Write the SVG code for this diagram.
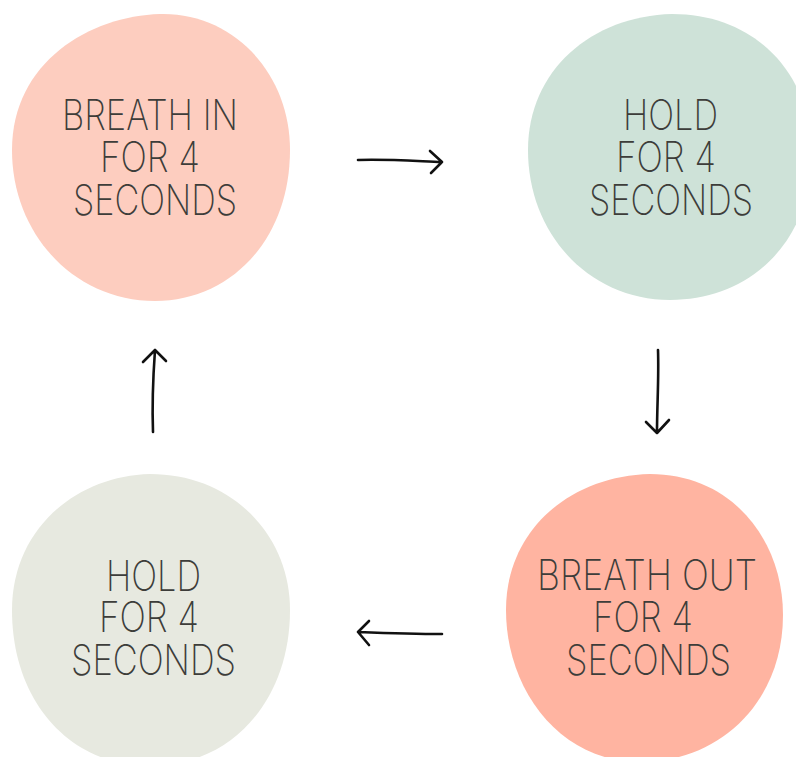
<svg xmlns="http://www.w3.org/2000/svg" width="796" height="757" viewBox="0 0 796 757">
<style>
.t{font-family:Inter,"Open Sans","Liberation Sans",sans-serif;font-weight:200;font-size:42px;fill:#3d3d3a;text-anchor:start}
.a{fill:none;stroke:#111;stroke-width:2.6;stroke-linecap:round;stroke-linejoin:round}
</style>
<rect width="796" height="757" fill="#fff"/>
<g id="node-breath-in">
<path d="M160 14 C232 12 290 72 290 150 C290 240 230 301 155 301 C75 301 12 235 12 150 C12 62 90 16 160 14 Z" fill="#FDCDBF"/>
<text class="t" x="62" y="130" textLength="176" lengthAdjust="spacingAndGlyphs">BREATH IN</text>
<text class="t" x="100" y="172" textLength="100" lengthAdjust="spacingAndGlyphs">FOR 4</text>
<text class="t" x="73" y="215" textLength="164" lengthAdjust="spacingAndGlyphs">SECONDS</text>
</g>
<g id="node-hold-1">
<path d="M672 14 C762 14 812 82 812 152 C812 242 750 300 670 300 C590 300 528 235 528 150 C528 70 592 16 672 14 Z" fill="#CEE2D8"/>
<text class="t" x="623" y="130" textLength="95" lengthAdjust="spacingAndGlyphs">HOLD</text>
<text class="t" x="616" y="172" textLength="100" lengthAdjust="spacingAndGlyphs">FOR 4</text>
<text class="t" x="589" y="215" textLength="164" lengthAdjust="spacingAndGlyphs">SECONDS</text>
</g>
<g id="node-breath-out">
<path d="M650 474 C732 474 783 540 783 615 C783 702 720 762 640 762 C560 762 506 690 506 610 C506 530 570 476 650 474 Z" fill="#FFB4A1"/>
<text class="t" x="537" y="590" textLength="220" lengthAdjust="spacingAndGlyphs">BREATH OUT</text>
<text class="t" x="593" y="632" textLength="100" lengthAdjust="spacingAndGlyphs">FOR 4</text>
<text class="t" x="566" y="675" textLength="165" lengthAdjust="spacingAndGlyphs">SECONDS</text>
</g>
<g id="node-hold-2">
<path d="M150 474 C232 474 290 535 290 610 C290 702 230 766 150 766 C70 766 12 702 12 610 C12 530 75 476 150 474 Z" fill="#E7E9E0"/>
<text class="t" x="106" y="591" textLength="95" lengthAdjust="spacingAndGlyphs">HOLD</text>
<text class="t" x="99" y="632" textLength="100" lengthAdjust="spacingAndGlyphs">FOR 4</text>
<text class="t" x="71" y="675" textLength="165" lengthAdjust="spacingAndGlyphs">SECONDS</text>
</g>
<g id="connectors">
<path class="a" d="M358 160 C385 159 415 161 442 162 M430 151 L442 162 L431 173"/>
<path class="a" d="M658 350 C659 378 657 405 657 433 M646 422 L657 433 L669 420"/>
<path class="a" d="M442 634 C415 634 385 633 358 632 M369 621 L358 632 L369 645"/>
<path class="a" d="M153 432 C152 405 153 378 155 350 M143 362 L155 350 L166 361"/>
</g>
</svg>
